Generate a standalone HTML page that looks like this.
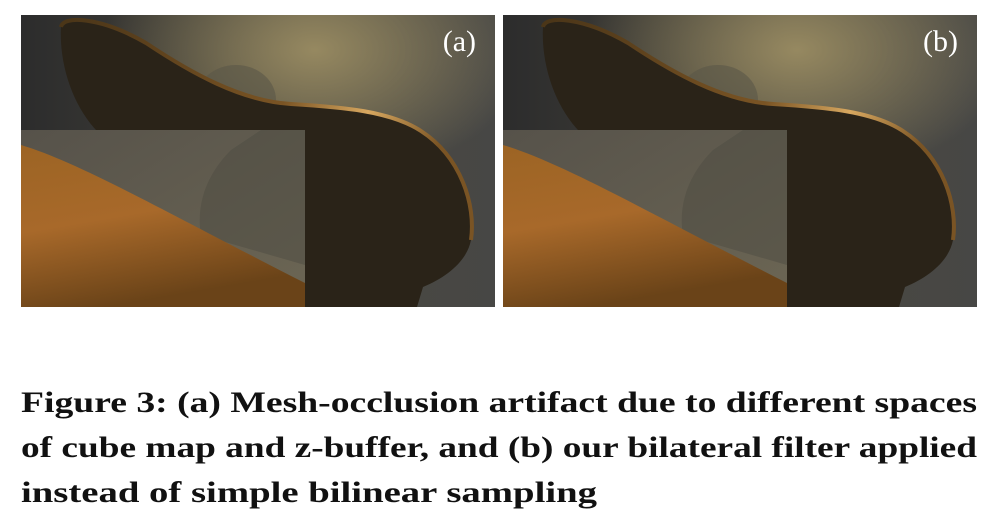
<!DOCTYPE html>
<html><head><meta charset="utf-8"><style>
html,body{margin:0;padding:0;background:#fff;width:1004px;height:522px;overflow:hidden}
svg{display:block}
</style></head><body>
<svg width="1004" height="522" viewBox="0 0 1004 522">
<defs>
  <linearGradient id="bg" x1="0" y1="0" x2="1" y2="0">
    <stop offset="0" stop-color="#2c2c2c"/><stop offset="0.6" stop-color="#4a4840"/><stop offset="1" stop-color="#474745"/>
  </linearGradient>
  <radialGradient id="glow" cx="0.62" cy="0.12" r="0.45">
    <stop offset="0" stop-color="#9a8c62" stop-opacity="0.95"/><stop offset="1" stop-color="#9a8c62" stop-opacity="0"/>
  </radialGradient>
  <linearGradient id="rim" x1="0" y1="0" x2="1" y2="0.3">
    <stop offset="0" stop-color="#4a3518"/><stop offset="0.6" stop-color="#7a5424"/><stop offset="0.8" stop-color="#d8a860"/><stop offset="1" stop-color="#7a5424"/>
  </linearGradient>
  <linearGradient id="body" x1="0" y1="0" x2="0.3" y2="1">
    <stop offset="0" stop-color="#9c6424"/><stop offset="0.5" stop-color="#a8692a"/><stop offset="1" stop-color="#6a4318"/>
  </linearGradient>
  <linearGradient id="inset" x1="0" y1="0" x2="1" y2="1">
    <stop offset="0" stop-color="#56524a"/><stop offset="1" stop-color="#6c6654"/>
  </linearGradient>
  <g id="panel">
    <rect x="0" y="0" width="474" height="292" fill="url(#bg)"/>
    <rect x="0" y="0" width="474" height="292" fill="url(#glow)"/>
    <ellipse cx="215" cy="85" rx="40" ry="35" fill="#5a5648" opacity="0.6"/>
    <path d="M40,12 C42,0 80,2 125,28 C170,58 220,86 270,89 C320,92 370,96 400,116 C440,142 455,190 450,225 C446,246 426,262 402,272 L396,292 L284,292 L284,115 L75,115 C52,90 38,50 40,12 Z" fill="#2a2318"/>
    <path d="M40,12 C42,0 80,2 125,28 C170,58 220,86 270,89 C320,92 370,96 400,116 C440,142 455,190 450,225" fill="none" stroke="url(#rim)" stroke-width="4"/>
    <rect x="0" y="115" width="284" height="177" fill="url(#inset)"/>
    <path d="M210,135 C185,160 175,190 180,220 L284,250 L284,115 L240,115 Z" fill="#4e4b42" opacity="0.5"/>
    <path d="M0,130 C60,148 150,200 284,268 L284,292 L0,292 Z" fill="url(#body)"/>
  </g>
</defs>
<g transform="translate(21,15)">
  <use href="#panel"/>
  <text x="455" y="36" text-anchor="end" font-family="Liberation Serif, serif" font-size="30" fill="#fff">(a)</text>
</g>
<g transform="translate(503,15)">
  <use href="#panel"/>
  <text x="455" y="36" text-anchor="end" font-family="Liberation Serif, serif" font-size="30" fill="#fff">(b)</text>
</g>
<g font-family="Liberation Serif, serif" font-weight="bold" font-size="30" fill="#111">
  <text x="21" y="412" textLength="956" lengthAdjust="spacingAndGlyphs">Figure 3: (a) Mesh-occlusion artifact due to different spaces</text>
  <text x="21" y="457" textLength="956" lengthAdjust="spacingAndGlyphs">of cube map and z-buffer, and (b) our bilateral filter applied</text>
  <text x="21" y="502" textLength="576" lengthAdjust="spacingAndGlyphs">instead of simple bilinear sampling</text>
</g>
</svg>
</body></html>
